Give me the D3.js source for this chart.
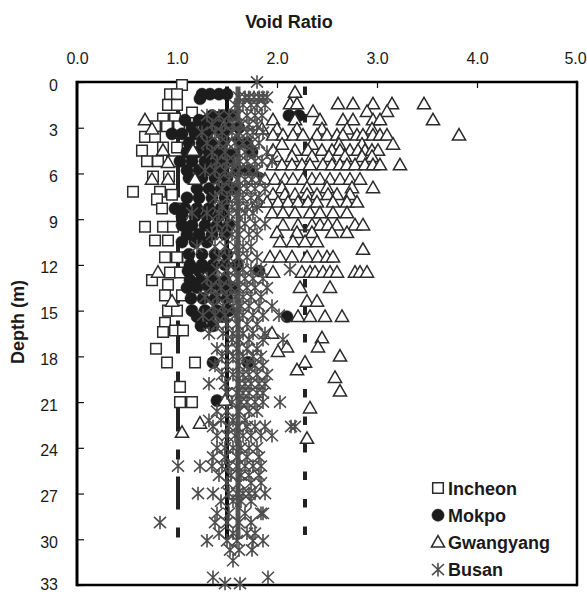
<!DOCTYPE html>
<html>
<head>
<meta charset="utf-8">
<script src="https://cdn.jsdelivr.net/npm/d3@7"></script>
<style>
  html, body { margin: 0; padding: 0; background: #fff; }
  svg { display: block; }
  text { font-family: "Liberation Sans", Arial, sans-serif; fill: #1a1a1a; }
</style>
</head>
<body>
<svg id="chart" width="587" height="592"></svg>
<script>
// Void ratio (x) against depth in metres (y) for four coastal clay sites.
// Each row: [depth, [void ratios measured at that depth]].

const seriesNames = ["Incheon", "Mokpo", "Gwangyang", "Busan"];

const xTicks = [0, 1, 2, 3, 4, 5];
const yTicks = [0, 3, 6, 9, 12, 15, 18, 21, 24, 27, 30, 33];

const incheonRows = [
  [0.2, [1.05]], [0.8, [0.93, 1.00]], [1.5, [0.91, 1.00]], [2.0, [1.15]],
  [2.4, [0.86, 0.98]], [2.9, [0.78, 0.90, 1.02]], [3.6, [0.68, 0.78]],
  [4.3, [0.86, 1.00]], [4.5, [0.65]], [5.2, [0.70, 0.81, 0.95]],
  [6.2, [0.76, 0.92]], [7.2, [0.56, 0.83]], [7.4, [0.95]], [7.7, [0.80]],
  [8.3, [0.85, 1.02]], [9.5, [0.68, 0.86, 0.96]], [10.4, [0.78, 0.91]],
  [11.5, [0.88, 1.00, 1.11]], [12.5, [0.93, 1.03]], [13.0, [0.75]],
  [13.3, [0.91]], [14.0, [0.88, 1.05]], [15.0, [0.91, 1.00]], [15.8, [0.88]],
  [16.3, [0.98, 1.06]], [16.4, [0.86]], [17.5, [0.79]], [18.4, [0.90, 1.18]],
  [20.0, [1.03]], [21.0, [1.03, 1.15]]
];

const mokpoRows = [
  [0.8, [1.25, 1.33, 1.42, 1.50]], [1.1, [1.23]],
  [2.2, [1.35, 1.45, 1.55, 2.12, 2.22]], [2.5, [1.08, 1.22, 1.30, 1.40]],
  [3.0, [1.15, 1.28, 1.38, 1.50, 1.62]], [3.4, [0.95, 1.05, 1.18, 1.30, 1.45]],
  [4.0, [1.12, 1.25, 1.35, 1.48, 1.60, 1.70]], [4.6, [1.10, 1.20, 1.32, 1.44, 1.56, 1.75]],
  [5.2, [1.03, 1.15, 1.28, 1.40, 1.52]], [5.8, [1.10, 1.22, 1.34, 1.46, 1.60, 1.72]],
  [6.3, [1.12, 1.25, 1.38, 1.50, 1.82]], [7.0, [1.20, 1.32, 1.44, 1.56]],
  [7.6, [1.10, 1.22, 1.35, 1.48]], [8.3, [0.98, 1.08, 1.20, 1.32, 1.44]],
  [8.8, [1.05, 1.18, 1.30, 1.42]], [9.4, [1.05, 1.15, 1.28, 1.40, 1.52]],
  [10.0, [1.10, 1.22, 1.35, 1.48]], [10.5, [1.05, 1.18, 1.30]],
  [11.3, [1.12, 1.25, 1.38, 1.50]], [12.0, [1.13, 1.25, 1.36, 1.48, 1.60]],
  [12.4, [1.11, 1.22, 1.34, 1.82]], [13.0, [1.13, 1.24, 1.36, 1.48]],
  [13.5, [1.10, 1.20, 1.32, 1.44, 1.56]], [14.2, [1.14, 1.26, 1.38, 1.50]],
  [15.0, [1.15, 1.28, 1.40, 1.52]], [15.4, [1.20, 1.32, 1.45, 2.10]],
  [16.0, [1.24, 1.36]], [18.4, [1.36, 1.71]], [20.9, [1.40]]
];

const gwangyangRows = [
  [0.7, [2.18]],
  [1.45, [2.13, 2.20, 2.61, 2.76, 2.96, 3.15, 3.47]],
  [1.95, [2.36, 2.90, 3.10]],
  [2.5, [0.68, 1.96, 2.18, 2.43, 2.66, 2.76, 2.96, 3.03, 3.56]],
  [3.1, [0.75, 1.85, 2.00, 2.20, 2.45, 2.70, 2.95]],
  [3.5, [1.96, 2.06, 2.16, 2.26, 2.40, 2.50, 2.60, 2.66, 2.80, 2.86, 2.96, 3.03, 3.10, 3.82]],
  [4.1, [1.55, 2.05, 2.35, 2.62, 2.85, 3.16]],
  [4.5, [0.86, 1.16, 1.96, 2.18, 2.31, 2.45, 2.55, 2.63, 2.73, 2.81, 2.88, 2.95, 3.01]],
  [4.9, [2.00, 2.15, 2.35, 2.52, 2.68, 2.85, 2.95]],
  [5.3, [0.91]],
  [5.45, [1.96, 2.05, 2.15, 2.25, 2.33, 2.46, 2.55, 2.63, 2.70, 2.78, 2.88, 2.96, 3.03, 3.23]],
  [6.4, [0.75, 0.91, 1.18, 1.78, 1.88, 1.98, 2.08, 2.16, 2.26, 2.35, 2.43, 2.53, 2.63, 2.73, 2.83]],
  [6.95, [2.05, 2.30, 2.50, 2.75, 2.96]],
  [7.4, [1.96, 2.08, 2.18, 2.30, 2.40, 2.51, 2.60, 2.73]],
  [7.9, [1.81, 1.90, 2.01, 2.11, 2.21, 2.31, 2.40, 2.56, 2.70, 2.80]],
  [8.6, [1.95, 2.06, 2.18, 2.33, 2.43, 2.56, 2.70]],
  [9.4, [2.06, 2.21, 2.35, 2.43, 2.51, 2.60, 2.78, 2.86]],
  [9.9, [2.00, 2.20, 2.35, 2.55, 2.70]],
  [10.5, [2.03, 2.16, 2.28, 2.40]],
  [11.0, [2.86]],
  [11.5, [1.93, 2.03, 2.15, 2.30, 2.41, 2.50, 2.56]],
  [12.5, [0.81, 1.96, 2.25, 2.33, 2.38, 2.46, 2.53, 2.60, 2.78, 2.83, 2.90]],
  [13.5, [2.23, 2.53]], [14.4, [0.95, 2.30, 2.40]],
  [15.4, [2.21, 2.33, 2.48, 2.65]], [16.5, [1.95]], [16.8, [2.45]],
  [17.4, [2.10, 2.41]], [17.7, [2.01]], [18.0, [2.63]], [18.4, [2.28]],
  [18.9, [2.20]], [19.4, [2.58]], [20.3, [2.63]], [20.9, [1.48]],
  [21.4, [2.33]], [22.4, [1.23]], [23.0, [1.05]], [23.4, [2.30]]
];

const busanRows = [
  [0.0, [1.80]],
  [1.0, [1.62, 1.68, 1.72, 1.77, 1.82, 1.86, 1.90]],
  [1.5, [1.58, 1.66, 1.74, 1.80, 1.88]],
  [2.2, [1.30, 1.42, 1.52, 1.60, 1.70, 1.78, 1.85]],
  [2.8, [1.35, 1.48, 1.56, 1.64, 1.72, 1.80]],
  [3.3, [1.25, 1.38, 1.45, 1.55, 1.62, 1.70, 1.76, 1.86]],
  [4.0, [1.30, 1.42, 1.50, 1.58, 1.66, 1.74, 1.82]],
  [4.6, [1.35, 1.48, 1.60, 1.68, 1.76, 1.90]],
  [5.2, [1.40, 1.50, 1.57, 1.63, 1.70, 1.78, 1.85, 1.95]],
  [5.8, [1.28, 1.38, 1.48, 1.55, 1.62, 1.72, 1.80]],
  [6.4, [1.42, 1.52, 1.60, 1.68, 1.75, 1.83]],
  [7.0, [1.45, 1.55, 1.63, 1.70, 1.78, 1.88]],
  [7.6, [1.38, 1.50, 1.58, 1.66, 1.74, 1.82]],
  [8.2, [1.45, 1.55, 1.62, 1.70, 1.80]],
  [8.6, [1.15, 1.30, 1.42, 1.52, 1.60, 1.68, 1.76]],
  [9.3, [1.40, 1.50, 1.60, 1.68, 1.78, 1.88]],
  [10.0, [1.35, 1.45, 1.55, 1.62, 1.72, 1.80]],
  [10.8, [1.20, 1.38, 1.48, 1.58, 1.66, 1.74]],
  [11.5, [1.42, 1.52, 1.62, 1.70, 1.80]],
  [12.3, [1.40, 1.50, 1.58, 1.66, 1.74, 1.84, 2.13]],
  [12.9, [1.30, 1.42, 1.52, 1.60, 1.68, 1.76, 1.86]],
  [13.5, [1.34, 1.44, 1.54, 1.62, 1.70, 1.78, 1.90]],
  [14.1, [1.28, 1.40, 1.50, 1.58, 1.66, 1.74, 1.84]],
  [14.7, [1.36, 1.46, 1.56, 1.64, 1.72, 1.82, 1.95]],
  [15.3, [1.26, 1.38, 1.48, 1.58, 1.66, 1.76, 1.86, 2.02]],
  [15.9, [1.40, 1.50, 1.60, 1.70, 1.80]],
  [16.5, [1.32, 1.46, 1.56, 1.66, 1.76, 1.88]],
  [16.9, [1.55, 1.62, 1.72, 1.86, 2.06]],
  [17.5, [1.40, 1.50, 1.60, 1.70, 1.80]],
  [18.0, [1.45, 1.56, 1.66, 1.76, 1.84]],
  [18.6, [1.38, 1.50, 1.62, 1.70, 1.78, 1.86]],
  [19.2, [1.45, 1.56, 1.66, 1.72, 1.80, 1.90]],
  [19.8, [1.32, 1.48, 1.62, 1.68, 1.74, 1.82, 1.88]],
  [20.4, [1.50, 1.60, 1.66, 1.72, 1.80, 1.86]],
  [21.0, [1.55, 1.64, 1.70, 1.78, 1.86, 2.03]],
  [21.6, [1.40, 1.50, 1.62, 1.72, 1.80]],
  [22.2, [1.32, 1.44, 1.56, 1.68]],
  [22.6, [1.36, 1.52, 1.60, 1.70, 1.78, 1.88, 2.14, 2.18]],
  [23.2, [1.40, 1.50, 1.58, 1.66, 1.74, 1.84, 1.95]],
  [24.0, [1.40, 1.48, 1.56, 1.64, 1.72, 1.80]],
  [24.6, [1.36, 1.48, 1.60, 1.70, 1.82]],
  [25.2, [1.01, 1.23, 1.35, 1.45, 1.52, 1.60, 1.68, 1.76, 1.84]],
  [25.8, [1.42, 1.54, 1.64, 1.72, 1.82]],
  [26.3, [1.50, 1.62, 1.74, 1.84]],
  [27.0, [1.21, 1.36, 1.52, 1.60, 1.66, 1.72, 1.78, 1.88]],
  [27.5, [1.44, 1.56, 1.64, 1.74]],
  [28.3, [1.40, 1.52, 1.68, 1.84, 1.86]],
  [28.9, [0.83, 1.38, 1.50, 1.62, 1.74]],
  [29.6, [1.42, 1.56, 1.70, 1.78]],
  [30.1, [1.30, 1.50, 1.60, 1.76, 1.86]],
  [30.7, [1.53, 1.62, 1.75]],
  [31.4, [1.56]],
  [32.5, [1.36, 1.91]],
  [32.9, [1.48, 1.63]]
];

// Representative void-ratio lines drawn from refLineTop to refLineBottom (m)
const refLineValues = [1.01, 1.50, 1.61, 2.28];
const refLineTop = 0.3;
const refLineBottom = 30;

// ---------------------------------------------------------------------------

const svg = d3.select("#chart");
const x = d3.scaleLinear().domain([0, 5]).range([77, 577]);
const y = d3.scaleLinear().domain([0, 33]).range([82, 585]);

const flatten = rows => rows.flatMap(([d, es]) => es.map(e => ({ e, d })));

// Axis titles
svg.append("text")
  .attr("x", 289).attr("y", 28)
  .attr("text-anchor", "middle")
  .style("font-size", "18px").style("font-weight", "bold")
  .text("Void Ratio");

svg.append("text")
  .attr("transform", "translate(24,322) rotate(-90)")
  .attr("text-anchor", "middle")
  .style("font-size", "18px").style("font-weight", "bold")
  .text("Depth (m)");

// Top axis (void ratio), ticks pointing into the plot
const xAxis = svg.append("g")
  .attr("transform", `translate(0,${y(0)})`)
  .call(d3.axisTop(x).tickValues(xTicks).tickFormat(d3.format(".1f"))
    .tickSizeInner(-6).tickSizeOuter(0).tickPadding(18));
xAxis.select(".domain").remove();
xAxis.selectAll(".tick line").attr("stroke", "#111").attr("stroke-width", 1.2);
xAxis.selectAll(".tick text")
  .style("font-size", "16px").style("font-family", "Liberation Sans, Arial, sans-serif")
  .attr("fill", "#1a1a1a")
  .attr("dx", d => d === 5 ? -2 : 0);

// Left axis (depth)
const yAxis = svg.append("g")
  .attr("transform", `translate(${x(0)},0)`)
  .call(d3.axisLeft(y).tickValues(yTicks).tickFormat(d3.format("d"))
    .tickSizeInner(-7).tickSizeOuter(0).tickPadding(19));
yAxis.select(".domain").remove();
yAxis.selectAll(".tick line").attr("stroke", "#111").attr("stroke-width", 1.2);
yAxis.selectAll(".tick text")
  .attr("dy", d => d === 33 ? "0.3em" : "0.5em")
  .style("font-size", "16px").style("font-family", "Liberation Sans, Arial, sans-serif")
  .attr("fill", "#1a1a1a");

// Plot frame
const frame = svg.append("g").attr("fill", "none").attr("stroke", "#000");
frame.append("line").attr("x1", x(0)).attr("x2", x(5)).attr("y1", y(0)).attr("y2", y(0)).attr("stroke-width", 2.5);
frame.append("line").attr("x1", x(0)).attr("x2", x(5)).attr("y1", y(33)).attr("y2", y(33)).attr("stroke-width", 2.5);
frame.append("line").attr("x1", x(0)).attr("x2", x(0)).attr("y1", y(0) - 1.2).attr("y2", y(33) + 1.2).attr("stroke-width", 3);
frame.append("line").attr("x1", x(5)).attr("x2", x(5)).attr("y1", y(0) - 1.2).attr("y2", y(33) + 1.2).attr("stroke-width", 2.5);

// Representative lines
const refStyles = [
  { stroke: "#222", width: 4, dash: "33,18,10,17" },
  { stroke: "#111", width: 4, dash: null },
  { stroke: "#555", width: 5, dash: null },
  { stroke: "#222", width: 4, dash: "8.5,19" }
];
svg.append("g").selectAll("line")
  .data(refLineValues)
  .join("line")
  .attr("x1", d => x(d)).attr("x2", d => x(d))
  .attr("y1", y(refLineTop)).attr("y2", y(refLineBottom))
  .attr("stroke", (d, i) => refStyles[i].stroke)
  .attr("stroke-width", (d, i) => refStyles[i].width)
  .attr("stroke-dasharray", (d, i) => refStyles[i].dash);

// Marker shapes
const squarePath = "M-5.3,-5.3H5.3V5.3H-5.3Z";
const circlePath = d3.symbol(d3.symbolCircle, Math.PI * 6.1 * 6.1)();
const trianglePath = "M0,-6.8L6.6,4.7H-6.6Z";
const starPath = "M0,-6.8V6.8M-6,-5.6L6,5.6M-6,5.6L6,-5.6";

const markerStyles = {
  Incheon:   { path: squarePath,   fill: "#fff",    stroke: "#2b2b2b", width: 1.5 },
  Mokpo:     { path: circlePath,   fill: "#1c1c1c", stroke: "#1c1c1c", width: 0.5 },
  Gwangyang: { path: trianglePath, fill: "#fff",    stroke: "#2b2b2b", width: 1.5 },
  Busan:     { path: starPath,     fill: "none",    stroke: "#4d4d4d", width: 1.6 }
};

const seriesData = {
  Incheon: flatten(incheonRows),
  Mokpo: flatten(mokpoRows),
  Gwangyang: flatten(gwangyangRows),
  Busan: flatten(busanRows)
};

seriesNames.forEach(name => {
  const st = markerStyles[name];
  svg.append("g").attr("class", "series")
    .selectAll("path")
    .data(seriesData[name])
    .join("path")
    .attr("transform", p => `translate(${x(p.e)},${y(p.d)})`)
    .attr("d", st.path)
    .attr("fill", st.fill)
    .attr("stroke", st.stroke)
    .attr("stroke-width", st.width);
});

// Legend
const legend = svg.append("g").attr("transform", "translate(438,488)");
seriesNames.forEach((name, i) => {
  const st = markerStyles[name];
  const row = legend.append("g").attr("transform", `translate(0,${i * 27.2})`);
  row.append("path")
    .attr("d", st.path)
    .attr("fill", st.fill)
    .attr("stroke", st.stroke)
    .attr("stroke-width", st.width);
  row.append("text")
    .attr("x", 10).attr("y", 6.5)
    .style("font-size", "18px").style("font-weight", "bold")
    .text(name);
});
</script>
</body>
</html>
